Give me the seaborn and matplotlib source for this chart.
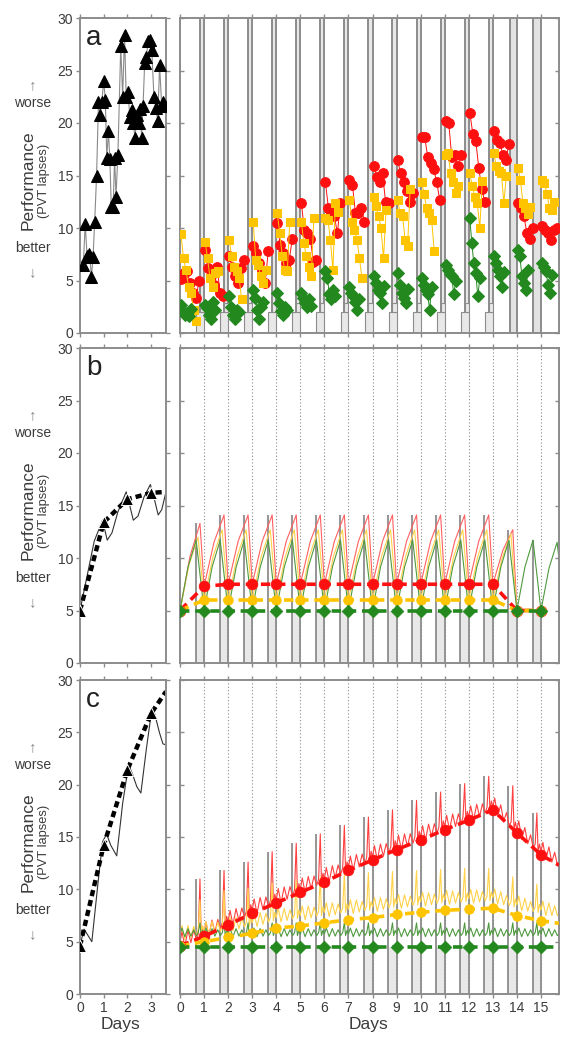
import numpy as np
import pandas as pd
import matplotlib
matplotlib.use("Agg")
import matplotlib.pyplot as plt
from matplotlib.patches import Rectangle
import seaborn as sns

sns.set_theme(style="white")
plt.rcParams["font.family"] = ["Liberation Sans", "DejaVu Sans"]

RED = "#ff1010"
YELLOW = "#ffc400"
GREEN = "#23891f"
GREY = "#8c8c8c"
BAND = "#e8e8e8"
TEXT = "#3c3c3c"

# ---------------- panel a, left: total sleep deprivation (PVT lapses) ----------------
tsd_a_days = [0.14, 0.22, 0.30, 0.36, 0.42, 0.48, 0.55, 0.62, 0.70, 0.78, 0.84, 0.92,
              1.00, 1.07, 1.13, 1.20, 1.26, 1.32, 1.40, 1.46, 1.52, 1.60, 1.72, 1.80,
              1.88, 1.95, 2.03, 2.10, 2.18, 2.25, 2.32, 2.40, 2.47, 2.55, 2.60, 2.66,
              2.73, 2.80, 2.88, 2.96, 3.03, 3.12, 3.20, 3.28, 3.36, 3.45, 3.52, 3.60]
tsd_a_lapses = [6.5, 10.4, 7.3, 7.5, 7.2, 5.3, 7.2, 10.6, 15.0, 22.0, 20.8, 22.0,
                24.0, 22.2, 16.7, 19.2, 16.6, 12.0, 12.0, 16.7, 13.0, 17.0, 27.3, 22.5,
                28.4, 22.5, 23.0, 20.6, 21.2, 20.0, 18.6, 20.8, 20.0, 21.3, 18.6, 21.6,
                25.7, 26.3, 27.8, 27.9, 27.0, 22.5, 21.4, 20.2, 25.5, 21.6, 22.0, 21.6]

# ---------------- panel a, right: sleep restriction, one list of tests per day ----------------
a_red = [
    [5.1, 5.7, 5.9, 4.8, 3.8, 3.3, 5.0],
    [7.9, 6.2, 5.4, 4.6, 6.3, 3.8, 3.5],
    [7.3, 6.3, 5.4, 4.8, 6.2, 7.0],
    [8.3, 7.6, 6.7, 5.9, 4.8, 7.8],
    [10.5, 8.4, 7.6, 6.7, 7.0, 9.0],
    [12.4, 9.8, 9.5, 9.0, 6.8, 7.0],
    [14.4, 11.9, 11.4, 11.1, 9.5, 12.4],
    [14.6, 14.1, 11.4, 11.4, 11.9, 10.6],
    [15.9, 14.9, 14.4, 15.2, 12.5, 12.4],
    [16.5, 15.2, 14.4, 13.5, 12.5, 13.3],
    [18.7, 18.7, 16.8, 16.2, 15.6, 14.4, 12.7],
    [20.2, 20.0, 16.8, 17.0, 15.9, 17.0],
    [21.0, 19.0, 18.3, 15.7, 13.7, 12.5],
    [19.2, 18.4, 18.1, 17.0, 16.5, 18.0],
    [12.4, 11.9, 11.1, 9.5, 9.0, 10.0],
    [10.2, 9.8, 9.5, 8.9, 9.8, 10.0],
]
a_yellow = [
    [9.4, 7.1, 6.0, 4.4, 3.8, 2.2, 1.1],
    [8.7, 7.1, 5.2, 4.4, 5.7, 5.9],
    [8.9, 7.3, 6.3, 5.9, 5.2, 3.2],
    [10.6, 7.0, 6.5, 5.4, 4.8, 6.0],
    [11.4, 9.5, 7.3, 6.0, 5.9, 10.6],
    [10.6, 8.6, 7.3, 6.3, 5.4, 11.0],
    [11.0, 10.8, 8.9, 6.0, 12.4, 11.5],
    [12.7, 10.6, 9.8, 8.9, 7.1, 5.2],
    [13.0, 12.1, 11.1, 10.0, 7.1, 11.7],
    [12.7, 11.4, 11.1, 8.9, 8.3, 13.7],
    [14.4, 13.2, 11.9, 11.4, 10.8, 7.8],
    [17.0, 17.1, 15.2, 14.4, 13.3, 14.0],
    [15.2, 14.0, 13.0, 12.4, 10.0, 14.5],
    [17.1, 15.9, 15.4, 15.2, 12.4, 15.0],
    [15.7, 14.6, 12.4, 11.9, 11.3, 12.0],
    [14.6, 14.3, 13.2, 11.9, 11.7, 12.5],
]
a_green = [
    [2.7, 2.1, 1.7, 1.9, 1.6, 2.3],
    [2.7, 2.4, 1.7, 1.3, 3.0, 2.2],
    [3.5, 2.5, 1.7, 1.3, 2.2, 2.0],
    [4.1, 3.3, 2.2, 1.3, 2.5, 3.0],
    [3.8, 2.9, 2.1, 1.7, 2.5, 2.2],
    [3.8, 3.3, 2.9, 2.5, 3.2, 2.6],
    [5.9, 5.2, 3.7, 3.2, 4.1, 3.5],
    [4.4, 3.8, 3.5, 3.0, 2.2, 3.2],
    [5.4, 4.8, 4.1, 3.8, 2.9, 4.5],
    [5.7, 4.6, 3.8, 3.3, 2.9, 4.2],
    [5.2, 4.6, 4.1, 3.7, 2.2, 4.4],
    [6.5, 6.0, 5.6, 5.4, 3.7, 5.0],
    [11.0, 8.6, 6.7, 5.7, 3.5, 5.2],
    [7.3, 6.7, 6.0, 5.4, 4.4, 5.8],
    [7.9, 7.3, 5.4, 4.8, 4.1, 6.0],
    [6.7, 6.3, 5.9, 4.6, 3.8, 5.5],
]
# test clock times, hours after waking
red_hours = [1, 4, 7, 10, 13, 16, 19]
yellow_hours = [1, 3.5, 6, 8.5, 11, 13.5, 16]
green_hours = [1, 3, 5, 7, 9, 11, 13]

# nights: end of each sleep period (day) and length of the drawn band in panel a
nights = [1, 2, 3, 4, 5, 6, 7, 8, 9, 10, 11, 12, 13, 14, 15]
band_a = [0.17, 0.17, 0.17, 0.17, 0.17, 0.17, 0.17, 0.17, 0.17, 0.17, 0.17, 0.17, 0.17, 0.28, 0.35]

# ---------------- panel b: model without trait differences ----------------
tsd_b_days = [0, 1, 2, 3, 3.63]
tsd_b_mean = [5.0, 13.4, 15.6, 16.2, 16.3]
tsd_b_model_days = [0, 0.3, 0.6, 0.95, 1.15, 1.35, 1.6, 1.95, 2.1, 2.25, 2.45, 2.7, 2.97, 3.15, 3.3, 3.45, 3.63]
tsd_b_model = [5.0, 8.3, 11.6, 13.6, 11.7, 12.4, 14.4, 16.3, 15.0, 13.6, 14.0, 15.8, 17.0, 15.5, 14.1, 14.6, 16.3]

b_days = [0, 1, 2, 3, 4, 5, 6, 7, 8, 9, 10, 11, 12, 13, 14, 15]
b_red_mean = [5.0, 7.3, 7.5, 7.5, 7.5, 7.5, 7.5, 7.5, 7.5, 7.5, 7.5, 7.5, 7.5, 7.5, 5.0, 5.0]
b_yellow_mean = [5.0, 6.0, 6.0, 6.0, 6.0, 6.0, 6.0, 6.0, 6.0, 6.0, 6.0, 6.0, 6.0, 6.0, 5.0, 5.0]
b_green_mean = [5.0, 5.0, 5.0, 5.0, 5.0, 5.0, 5.0, 5.0, 5.0, 5.0, 5.0, 5.0, 5.0, 5.0, 5.0, 5.0]
b_red_peak = [13.3, 14.1, 14.1, 14.1, 14.1, 14.1, 14.1, 14.1, 14.1, 14.1, 14.1, 14.1, 14.1, 12.7]
b_yellow_peak = [12.0, 12.7, 12.7, 12.7, 12.7, 12.7, 12.7, 12.7, 12.7, 12.7, 12.7, 12.7, 12.7, 12.3]
b_green_peak = [11.7, 11.7, 11.7, 11.7, 11.7, 11.7, 11.7, 11.7, 11.7, 11.7, 11.7, 11.7, 11.7, 11.7, 11.7, 11.5]
peak_time = {"red": 0.83, "yellow": 0.75, "green": 0.67}

# ---------------- panel c: model with trait differences ----------------
tsd_c_days = [0, 1, 2, 3, 3.63]
tsd_c_mean = [4.6, 14.2, 21.4, 26.8, 28.9]
tsd_c_model_days = [0, 0.17, 0.5, 0.75, 0.95, 1.12, 1.3, 1.55, 1.8, 2.05, 2.2, 2.4, 2.57, 2.8, 3.02, 3.15, 3.35, 3.5, 3.63]
tsd_c_model = [4.6, 6.2, 5.0, 10.4, 14.5, 15.3, 14.2, 13.2, 18.2, 21.9, 21.1, 19.8, 19.2, 23.4, 27.0, 26.8, 25.0, 23.9, 23.8]

c_days = [0, 1, 2, 3, 4, 5, 6, 7, 8, 9, 10, 11, 12, 13, 14, 15, 15.75]
c_red_mean = [4.6, 5.5, 6.6, 7.7, 8.7, 9.7, 10.7, 11.8, 12.8, 13.8, 14.7, 15.7, 16.6, 17.6, 15.4, 13.3, 12.3]
c_yellow_mean = [4.6, 5.0, 5.4, 5.8, 6.3, 6.5, 6.8, 7.1, 7.3, 7.6, 7.8, 8.0, 8.1, 8.2, 7.5, 7.0, 6.75]
c_green_mean = [4.5, 4.5, 4.5, 4.5, 4.5, 4.5, 4.5, 4.5, 4.5, 4.5, 4.5, 4.5, 4.5, 4.5, 4.5, 4.5, 4.5]
c_red_spike = [11.0, 11.8, 12.6, 13.6, 14.4, 15.3, 16.1, 16.9, 17.6, 18.5, 19.3, 20.1, 20.8, 19.9, 17.3, 16.0]
c_yellow_spike = [9.0, 9.9, 10.1, 10.6, 10.9, 11.2, 11.5, 11.6, 11.7, 11.8, 11.9, 12.0, 12.0, 11.2, 10.5, 10.0]
c_green_spike = [6.8, 6.8, 6.8, 6.8, 6.8, 6.8, 6.8, 6.8, 6.8, 6.8, 6.8, 6.8, 6.8, 6.8, 6.8, 6.8]
# within-day wave of the model curves (None marks the spike)
wave_t = [0.00, 0.08, 0.20, 0.33, 0.45, 0.57, 0.68, 0.76, 0.83, 0.88, 0.94]
wave_y = [0.0, 1.0, -0.5, 0.9, -0.4, 0.7, -0.3, 0.2, None, -0.3, 0.6]
wave_style = {"red": (0.3, 1.0), "yellow": (1.0, 0.9), "green": (1.25, 0.55)}


def tests_table(values, hours):
    rows = []
    for day, tests in enumerate(values):
        for h, v in zip(hours, tests):
            rows.append({"day": day + h / 24, "lapses": v, "night": day})
    return pd.DataFrame(rows)


def sawtooth(means, peaks, t_peak):
    xs, ys = [], []
    for d, peak in enumerate(peaks):
        lo, hi = means[d], means[min(d + 1, len(means) - 1)]
        xs += [d, d + t_peak * 0.5, d + t_peak, d + 1]
        ys += [lo, lo + 0.62 * (peak - lo), peak, hi]
    return xs, ys


def wavy(days, means, spikes, offset, amp):
    xs, ys = [], []
    for d in range(len(days) - 1):
        span = days[d + 1] - days[d]
        for t, w in zip(wave_t, wave_y):
            if t > span:
                continue
            base = means[d] + (means[d + 1] - means[d]) * t / span
            xs.append(days[d] + t)
            ys.append(spikes[d] if w is None else base + offset + amp * w)
    xs.append(days[-1])
    ys.append(means[-1] + offset)
    return xs, ys


def style(ax, xmax, xticks, ylabels, xlabels):
    ax.set_xlim(0, xmax)
    ax.set_ylim(0, 30)
    ax.set_xticks(xticks)
    ax.set_yticks(range(0, 31, 5))
    for s in ax.spines.values():
        s.set_color(GREY)
        s.set_linewidth(1.4)
    ax.tick_params(axis="both", direction="out", length=3, width=1, color=GREY,
                   labelcolor=TEXT, labelsize=10, pad=2, top=True, right=True,
                   bottom=True, left=True)
    if not ylabels:
        ax.set_yticklabels([])
    if not xlabels:
        ax.set_xticklabels([])
    ax.set_xlabel("")
    ax.set_ylabel("")
    ax.grid(False)


fig = plt.figure(figsize=(5.74, 10.49), dpi=100)
W, H = 574, 1049
rows = [(18, 333), (348, 663), (680, 994)]


def px_axes(x0, x1, y0, y1):
    return fig.add_axes([x0 / W, 1 - y1 / H, (x1 - x0) / W, (y1 - y0) / H])


axes = []
for top, bottom in rows:
    axes.append((px_axes(80, 166, top, bottom), px_axes(180, 559, top, bottom)))

# ---------------- panel a ----------------
axL, axR = axes[0]
sns.lineplot(x=tsd_a_days, y=tsd_a_lapses, ax=axL, color="#8a8a8a", lw=0.8,
             marker="^", ms=8, mfc="black", mec="black", sort=False, zorder=3)

for n, length in zip(nights, band_a):
    axR.axvspan(n - length, n, color=BAND if n < 14 else "#e2e2e2", lw=0, zorder=0)
    axR.axvline(n - length, color=GREY, lw=1.4, zorder=1)
    axR.axvline(n, color=GREY, lw=1.4, zorder=1)
    if n < 14:
        axR.add_patch(Rectangle((n - 0.33, 0), 0.33, 2.0, fc=BAND, ec=GREY, lw=0.8, zorder=1))
        axR.add_patch(Rectangle((n - 0.17, 2.0), 0.17, 0.9, fc=BAND, ec=GREY, lw=0.8, zorder=1))

for values, hours, col, mk, ms in [(a_red, red_hours, RED, "o", 7),
                                   (a_yellow, yellow_hours, YELLOW, "s", 6),
                                   (a_green, green_hours, GREEN, "D", 6)]:
    sns.lineplot(data=tests_table(values, hours), x="day", y="lapses", units="night",
                 estimator=None, sort=False, ax=axR, color=col, lw=0.7,
                 marker=mk, ms=ms, mfc=col, mec=col, zorder=3)

# ---------------- panels b and c: shared decorations ----------------
def model_bands(ax, onset_tops, wake_tops, fill_top):
    for n, t_on, t_wake in zip(nights, onset_tops, wake_tops):
        ax.fill_between([n - 0.35, n], 0, fill_top, color=BAND, lw=0, zorder=0)
        ax.axvline(n, color=GREY, lw=0.8, ls=(0, (1, 2)), zorder=0)
        ax.vlines([n - 0.35], 0, t_on, color=GREY, lw=1.3, zorder=1)
        ax.vlines([n], 0, t_wake, color=GREY, lw=1.3, zorder=1)


def mean_line(ax, x, y, col, mk, ms, n_markers):
    sns.lineplot(x=x, y=y, ax=ax, color=col, lw=2.6, sort=False, zorder=4,
                 dashes=False, linestyle=(0, (2.6, 1.6)))
    sns.scatterplot(x=x[:n_markers], y=y[:n_markers], ax=ax, color=col, marker=mk,
                    s=ms, edgecolor=col, linewidth=0.5, zorder=5)


# ---------------- panel b ----------------
axL, axR = axes[1]
sns.lineplot(x=tsd_b_model_days, y=tsd_b_model, ax=axL, color="#333333", lw=0.8, sort=False)
sns.lineplot(x=tsd_b_days, y=tsd_b_mean, ax=axL, color="black", lw=3.2, sort=False,
             linestyle=(0, (1.4, 0.9)))
sns.scatterplot(x=tsd_b_days[:4], y=tsd_b_mean[:4], ax=axL, color="black", marker="^",
                s=75, zorder=5)

model_bands(axR, b_red_peak + [11.7, 11.7], b_red_mean[1:], 5.0)
for means, peaks, col, key in [(b_red_mean, b_red_peak, "#ff6060", "red"),
                               (b_yellow_mean, b_yellow_peak, "#ffd34d", "yellow"),
                               (b_green_mean, b_green_peak, "#4f9a3f", "green")]:
    sx, sy = sawtooth(means, peaks, peak_time[key])
    sns.lineplot(x=sx, y=sy, ax=axR, color=col, lw=0.8, sort=False, zorder=2)
mean_line(axR, b_days, b_red_mean, RED, "o", 60, 16)
mean_line(axR, b_days, b_yellow_mean, YELLOW, "o", 48, 16)
mean_line(axR, b_days, b_green_mean, GREEN, "D", 42, 16)

# ---------------- panel c ----------------
axL, axR = axes[2]
sns.lineplot(x=tsd_c_model_days, y=tsd_c_model, ax=axL, color="#333333", lw=0.8, sort=False)
sns.lineplot(x=tsd_c_days, y=tsd_c_mean, ax=axL, color="black", lw=3.2, sort=False,
             linestyle=(0, (1.4, 0.9)))
sns.scatterplot(x=tsd_c_days[:4], y=tsd_c_mean[:4], ax=axL, color="black", marker="^",
                s=75, zorder=5)

model_bands(axR, c_red_spike[:15], c_red_mean[1:16], 4.5)
for means, spikes, col, key in [(c_red_mean, c_red_spike, "#ff4040", "red"),
                                (c_yellow_mean, c_yellow_spike, "#ffd24a", "yellow"),
                                (c_green_mean, c_green_spike, "#4f9a3f", "green")]:
    off, amp = wave_style[key]
    wx, wy = wavy(c_days, means, spikes, off, amp)
    sns.lineplot(x=wx, y=wy, ax=axR, color=col, lw=0.8, sort=False, zorder=2)
mean_line(axR, c_days, c_red_mean, RED, "o", 60, 16)
mean_line(axR, c_days, c_yellow_mean, YELLOW, "o", 48, 16)
mean_line(axR, c_days, c_green_mean, GREEN, "D", 42, 16)

# ---------------- axes styling and text ----------------
for i, (axL, axR) in enumerate(axes):
    last = i == 2
    style(axL, 3.63, [0, 1, 2, 3], True, last)
    style(axR, 15.75, list(range(16)), False, last)
    axR.tick_params(axis="y", which="both", direction="in")

for (top, bottom), letter in zip(rows, ["a", "b", "c"]):
    mid = (top + bottom) / 2 + 5
    fig.text(86 / W, 1 - (top + 27) / H, letter, fontsize=20, color="#222222", va="baseline")
    fig.text(28 / W, 1 - mid / H, "Performance", rotation=90, fontsize=12.5,
             color=TEXT, ha="center", va="center")
    fig.text(44 / W, 1 - mid / H, "(PVT lapses)", rotation=90, fontsize=9.3,
             color=TEXT, ha="center", va="center")
    fig.text(33 / W, 1 - (top + 67) / H, "\u2191", fontsize=11, color="#888888",
             ha="center", va="center")
    fig.text(33 / W, 1 - (top + 85) / H, "worse", fontsize=10, color=TEXT,
             ha="center", va="center")
    fig.text(33 / W, 1 - (top + 230) / H, "better", fontsize=10, color=TEXT,
             ha="center", va="center")
    fig.text(33 / W, 1 - (top + 254) / H, "\u2193", fontsize=11, color="#888888",
             ha="center", va="center")

fig.text(120 / W, 1 - 1025 / H, "Days", fontsize=12.5, color=TEXT, ha="center", va="center")
fig.text(368 / W, 1 - 1025 / H, "Days", fontsize=12.5, color=TEXT, ha="center", va="center")

fig.savefig("out.png", dpi=100)
